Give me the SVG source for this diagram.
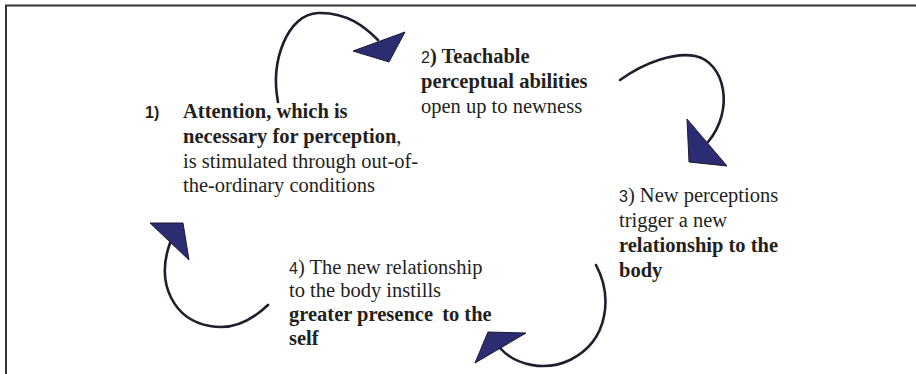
<svg xmlns="http://www.w3.org/2000/svg" width="916" height="374" viewBox="0 0 916 374">
<style>
.t{font-family:"Liberation Serif","Times New Roman",serif;font-size:20.5px;fill:#231f20}
.b{font-weight:bold}
.n{font-family:"Liberation Sans",Arial,sans-serif;font-size:16px}
.curve{fill:none;stroke:#1e1e2e;stroke-width:2.6;stroke-linecap:round}
.head{fill:#2b2c72;stroke:#1a1a33;stroke-width:1;stroke-linejoin:miter}
.frame{fill:none;stroke:#333;stroke-width:2}
</style>
<rect width="916" height="374" fill="#fff"/>
<path class="frame" d="M6,374 V5.5 H916"/>
<g id="connectors">
<path class="curve" d="M278,102 C270,60 288,14 318,13 C348,12 366,28 378,40"/>
<polygon class="head" points="405,32 353,51 389,62"/>
<path class="curve" d="M620,80 C645,62 675,52 695,56 C725,62 735,110 708,142"/>
<polygon class="head" points="687,119 689,162 727,166"/>
<path class="curve" d="M596,265 C612,295 610,340 570,360 C545,372 515,365 500,348"/>
<polygon class="head" points="488,332 526,333 475,363"/>
<path class="curve" d="M268,305 C250,322 230,330 210,326 C175,320 155,285 170,243"/>
<polygon class="head" points="150,223 183,223 189,260"/>
</g>
<g id="node1">
<text class="t n b" x="145" y="118">1)</text>
<text class="t b" x="183" y="118">Attention, which is</text>
<text class="t" x="183" y="143"><tspan class="b">necessary for perception</tspan>,</text>
<text class="t" x="183" y="168">is stimulated through out-of-</text>
<text class="t" x="183" y="192">the-ordinary conditions</text>
</g>
<g id="node2">
<text class="t" x="421" y="63"><tspan class="n">2</tspan><tspan class="b">) Teachable</tspan></text>
<text class="t b" x="421" y="88">perceptual abilities</text>
<text class="t" x="421" y="113">open up to newness</text>
</g>
<g id="node3">
<text class="t" x="619" y="202"><tspan class="n">3</tspan>) New perceptions</text>
<text class="t" x="619" y="227">trigger a new</text>
<text class="t b" x="619" y="252">relationship to the</text>
<text class="t b" x="619" y="277">body</text>
</g>
<g id="node4">
<text class="t" x="289" y="274"><tspan class="n">4</tspan>) The new relationship</text>
<text class="t" x="289" y="297">to the body instills</text>
<text class="t b" x="289" y="321">greater presence <tspan dx="4">to the</tspan></text>
<text class="t b" x="289" y="345">self</text>
</g>
</svg>
